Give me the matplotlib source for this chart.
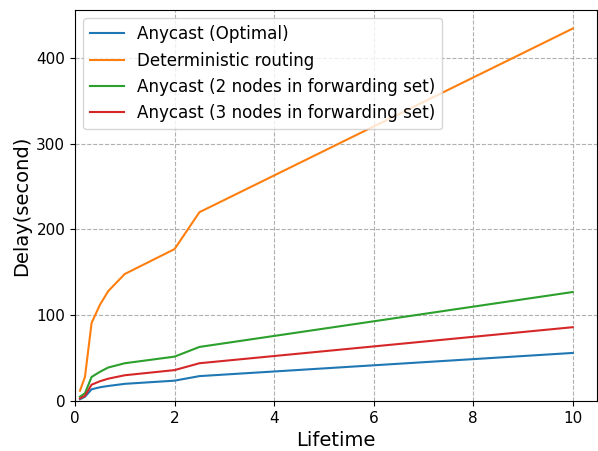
import matplotlib
matplotlib.use("Agg")
import matplotlib.pyplot as plt

lifetime = [0.1, 0.2, 1/3, 0.5, 2/3, 1, 2, 2.5, 10]
optimal = [2, 5, 13.6, 16, 17.5, 20, 23.7, 29, 56]
deterministic = [12, 28, 91, 112, 128, 148, 177, 220, 434]
two_nodes = [5, 9, 28, 34, 39, 44, 51.7, 63, 127]
three_nodes = [3, 6, 19, 23, 26, 30, 36, 44, 86]

fig = plt.figure(figsize=(5.98, 4.51), dpi=100)
ax = fig.add_axes([75/598, 1-401/451, 1-75/598 - 0.001, (401-10)/451])
ax.plot(lifetime, optimal, label="Anycast (Optimal)")
ax.plot(lifetime, deterministic, label="Deterministic routing")
ax.plot(lifetime, two_nodes, label="Anycast (2 nodes in forwarding set)")
ax.plot(lifetime, three_nodes, label="Anycast (3 nodes in forwarding set)")
ax.set_xlim(left=0)
ax.set_ylim(bottom=0)
ax.grid(True, linestyle="--", color="#b0b0b0")
ax.set_xlabel("Lifetime", fontsize=14)
ax.set_ylabel("Delay(second)", fontsize=14)
ax.tick_params(labelsize=11)
ax.legend(fontsize=12.1, loc="upper left")
fig.savefig("out.png", dpi=100)
